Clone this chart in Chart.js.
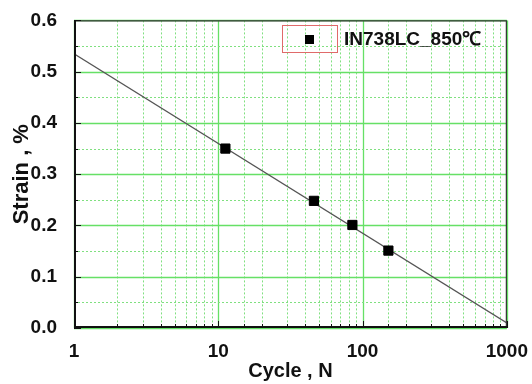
<!DOCTYPE html>
<html>
<head>
<meta charset="utf-8">
<script src="https://cdn.jsdelivr.net/npm/chart.js@4"></script>
<style>
html, body { margin: 0; padding: 0; background: #fff; }
</style>
</head>
<body>
<canvas id="chart" width="532" height="384"></canvas>
<script>
// data
const cycles = [11.2, 46, 85, 151];
const strains = [0.35, 0.248, 0.201, 0.151];
const fitCycles = [1, 1000];
const fitStrains = [0.535, 0.01];
const xTickLabels = [1, 10, 100, 1000];
const yTickLabels = [0.0, 0.1, 0.2, 0.3, 0.4, 0.5, 0.6];
const seriesName = "IN738LC_850℃";

const fontFamily = "'Liberation Sans', Arial, sans-serif";

function isMajorX(v) {
    return xTickLabels.some(t => Math.abs(t - v) < 1e-9);
}
function isMajorY(v) {
    return yTickLabels.some(t => Math.abs(t - v) < 1e-9);
}

// green grid (solid majors, dotted minors) drawn under the data
const greenGrid = {
    id: "greenGrid",
    beforeDatasetsDraw(chart) {
        const { ctx, chartArea: a, scales: { x, y } } = chart;
        ctx.save();
        const line = (x1, y1, x2, y2, major) => {
            ctx.beginPath();
            ctx.strokeStyle = major ? "#66e066" : "#80e080";
            ctx.lineWidth = major ? 1.3 : 1;
            ctx.setLineDash(major ? [] : [2, 2]);
            ctx.moveTo(x1, y1);
            ctx.lineTo(x2, y2);
            ctx.stroke();
        };
        x.ticks.forEach(t => {
            const px = Math.round(x.getPixelForValue(t.value)) + 0.5;
            line(px, a.top, px, a.bottom, isMajorX(t.value));
        });
        y.ticks.forEach(t => {
            const py = Math.round(y.getPixelForValue(t.value)) + 0.5;
            line(a.left, py, a.right, py, isMajorY(t.value));
        });
        ctx.restore();
    }
};

// frame, inward ticks and the boxed legend
const frameAndLegend = {
    id: "frameAndLegend",
    afterDraw(chart) {
        const { ctx, chartArea: a, scales: { x, y } } = chart;
        ctx.save();
        ctx.setLineDash([]);

        // top and right
        ctx.strokeStyle = "#333";
        ctx.lineWidth = 1.2;
        ctx.beginPath();
        ctx.moveTo(a.left, a.top + 0.5);
        ctx.lineTo(a.right - 0.5, a.top + 0.5);
        ctx.lineTo(a.right - 0.5, a.bottom);
        ctx.stroke();

        // ticks pointing in
        ctx.strokeStyle = "#111";
        ctx.lineWidth = 1;
        x.ticks.forEach(t => {
            const px = Math.round(x.getPixelForValue(t.value)) + 0.5;
            const len = isMajorX(t.value) ? 7 : 4;
            ctx.beginPath();
            ctx.moveTo(px, a.bottom);
            ctx.lineTo(px, a.bottom - len);
            ctx.stroke();
        });
        y.ticks.forEach(t => {
            const py = Math.round(y.getPixelForValue(t.value)) + 0.5;
            const len = isMajorY(t.value) ? 7 : 4;
            ctx.beginPath();
            ctx.moveTo(a.left, py);
            ctx.lineTo(a.left + len, py);
            ctx.stroke();
        });

        // left and bottom axis lines
        ctx.strokeStyle = "#111";
        ctx.lineWidth = 2;
        ctx.beginPath();
        ctx.moveTo(a.left + 1, a.top);
        ctx.lineTo(a.left + 1, a.bottom - 1);
        ctx.lineTo(a.right, a.bottom - 1);
        ctx.stroke();

        // legend
        ctx.strokeStyle = "#e06a6a";
        ctx.lineWidth = 1;
        ctx.strokeRect(282.5, 25.5, 55, 27);
        ctx.fillStyle = "#000";
        ctx.fillRect(305, 35, 9, 9);
        ctx.font = "bold 19px " + fontFamily;
        ctx.textBaseline = "middle";
        ctx.textAlign = "left";
        ctx.fillStyle = "#111";
        ctx.fillText(chart.data.datasets[0].label, 344, 40);
        ctx.restore();
    }
};

const chart = new Chart(document.getElementById("chart").getContext("2d"), {
    type: "scatter",
    data: {
        datasets: [
            {
                label: seriesName,
                data: cycles.map((c, i) => ({ x: c, y: strains[i] })),
                pointStyle: "rect",
                pointRadius: 6.5,
                pointBackgroundColor: "#000",
                pointBorderColor: "#000",
                pointBorderWidth: 1,
                order: 0
            },
            {
                label: "fit",
                data: fitCycles.map((c, i) => ({ x: c, y: fitStrains[i] })),
                showLine: true,
                borderColor: "#555",
                borderWidth: 1.3,
                pointRadius: 0,
                order: 1
            }
        ]
    },
    options: {
        responsive: false,
        animation: false,
        layout: { padding: { top: 16, right: 24, left: 0, bottom: 0 } },
        plugins: {
            legend: { display: false },
            tooltip: { enabled: false }
        },
        scales: {
            x: {
                type: "logarithmic",
                min: 1,
                max: 1000,
                grid: { display: false },
                border: { display: false },
                ticks: {
                    autoSkip: false,
                    maxRotation: 0,
                    padding: 4,
                    color: "#111",
                    font: { family: fontFamily, size: 19, weight: "bold" },
                    callback: v => isMajorX(v) ? String(v) : ""
                },
                title: {
                    display: true,
                    text: "Cycle , N",
                    color: "#111",
                    font: { family: fontFamily, size: 20, weight: "bold" },
                    padding: { top: 0, bottom: 1 }
                },
                afterFit: s => { s.height = 56; }
            },
            y: {
                min: 0,
                max: 0.6,
                grid: { display: false },
                border: { display: false },
                ticks: {
                    stepSize: 0.05,
                    autoSkip: false,
                    padding: 9,
                    color: "#111",
                    font: { family: fontFamily, size: 19, weight: "bold" },
                    callback: v => isMajorY(v) ? v.toFixed(1) : ""
                },
                title: {
                    display: true,
                    text: "Strain , %",
                    color: "#111",
                    font: { family: fontFamily, size: 22, weight: "bold" },
                    padding: { top: 9, bottom: 0 }
                },
                afterFit: s => { s.width = 74; }
            }
        }
    },
    plugins: [greenGrid, frameAndLegend]
});
</script>
</body>
</html>
